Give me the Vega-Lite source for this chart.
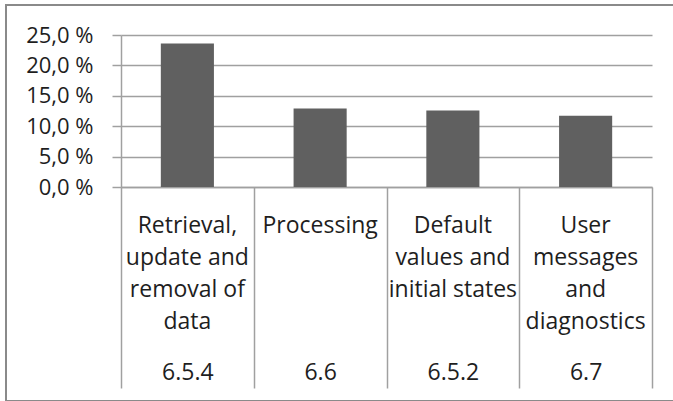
{
  "$schema": "https://vega.github.io/schema/vega-lite/v6.json",
  "autosize": {"type": "none"},
  "padding": {"left": 6, "top": 5, "right": -3, "bottom": 0},
  "width": 670,
  "height": 396,
  "data": {
    "values": [
      {"category": "6.5.4\nRetrieval,\nupdate and\nremoval of\ndata", "share": 23.6},
      {"category": "6.6\nProcessing", "share": 12.9},
      {"category": "6.5.2\nDefault\nvalues and\ninitial states", "share": 12.6},
      {"category": "6.7\nUser\nmessages\nand\ndiagnostics", "share": 11.7}
    ]
  },
  "layer": [
    {
      "mark": {"type": "bar", "color": "#606060", "width": {"band": 0.4}},
      "encoding": {
        "x": {
          "field": "category",
          "type": "nominal",
          "sort": null,
          "title": null,
          "scale": {"range": [115, 646], "paddingInner": 0, "paddingOuter": 0},
          "axis": {
            "orient": "bottom",
            "offset": -214,
            "ticks": false,
            "domain": true,
            "domainColor": "#a0a0a0",
            "domainWidth": 1.5,
            "labelAngle": 0,
            "labelAlign": "center",
            "labelBaseline": "top",
            "labelPadding": 27,
            "labelLineHeight": 32,
            "labelFont": "Open Sans",
            "labelFontSize": 23,
            "labelColor": "#1e1e1e",
            "labelLimit": 300,
            "labelExpr": "slice(split(datum.label, '\\n'), 1)"
          }
        },
        "y": {
          "field": "share",
          "type": "quantitative",
          "title": null,
          "scale": {"domain": [0, 25], "range": [182, 30], "nice": false, "zero": true},
          "axis": {
            "orient": "left",
            "offset": -115,
            "values": [0, 5, 10, 15, 20, 25],
            "grid": true,
            "gridColor": "#a0a0a0",
            "gridWidth": 1.5,
            "domain": true,
            "domainColor": "#a0a0a0",
            "domainWidth": 1.5,
            "ticks": true,
            "tickSize": 9,
            "tickColor": "#a0a0a0",
            "tickWidth": 1.5,
            "labelPadding": 19,
            "labelFont": "Open Sans",
            "labelFontSize": 22,
            "labelColor": "#1e1e1e",
            "labelExpr": "replace(format(datum.value, '.1f'), '.', ',') + ' %'"
          }
        }
      }
    },
    {
      "mark": {"type": "bar", "opacity": 0},
      "encoding": {
        "x": {
          "field": "category",
          "type": "nominal",
          "sort": null,
          "title": null,
          "axis": {
            "orient": "bottom",
            "offset": -214,
            "domain": false,
            "ticks": true,
            "tickBand": "extent",
            "tickSize": 201,
            "tickColor": "#a0a0a0",
            "tickWidth": 1.5,
            "labelAngle": 0,
            "labelAlign": "center",
            "labelBaseline": "top",
            "labelPadding": -27,
            "labelFont": "Open Sans",
            "labelFontSize": 23,
            "labelColor": "#1e1e1e",
            "labelExpr": "split(datum.label, '\\n')[0]"
          }
        }
      }
    }
  ],
  "resolve": {"axis": {"x": "independent"}},
  "config": {
    "view": {"stroke": "#8a8a8a", "strokeWidth": 2},
    "background": "white"
  }
}
